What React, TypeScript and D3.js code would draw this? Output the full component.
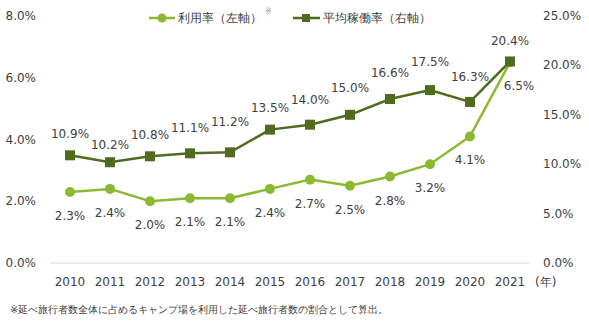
import React from "react";
import * as d3 from "d3";

const years = ["2010","2011","2012","2013","2014","2015","2016","2017","2018","2019","2020","2021"];
const usageRate = [2.3, 2.4, 2.0, 2.1, 2.1, 2.4, 2.7, 2.5, 2.8, 3.2, 4.1, 6.5];
const occupancyRate = [10.9, 10.2, 10.8, 11.1, 11.2, 13.5, 14.0, 15.0, 16.6, 17.5, 16.3, 20.4];
const leftTicks = [0, 2, 4, 6, 8];
const rightTicks = [0, 5, 10, 15, 20, 25];
const occLabelDy = [-21, -17, -21, -25, -30, -22, -25, -27, -26, -28, -25, -20];

const W = 589, H = 321;
const LIGHT = "#8CB931";
const DARK = "#4F6B1D";
const TEXT = "#404040";
const FONT = "'DejaVu Sans', Verdana, sans-serif";

export default function App() {
  const x = d3.scalePoint<string>().domain(years).range([70, 510]);
  const yL = d3.scaleLinear().domain([0, 8]).range([263, 16]);
  const yR = d3.scaleLinear().domain([0, 25]).range([263, 16]);

  const lineL = d3.line<number>().x((_, i) => x(years[i])!).y(d => yL(d));
  const lineR = d3.line<number>().x((_, i) => x(years[i])!).y(d => yR(d));

  return (
    <svg width={W} height={H} style={{ position: "absolute", left: 0, top: 0 }} fontFamily={FONT}>
      <rect width={W} height={H} fill="#fff" />
      {/* baseline */}
      <line x1={50} x2={530} y1={yL(0)} y2={yL(0)} stroke="#d9d9d9" strokeWidth={1} />
      {/* left axis */}
      {leftTicks.map(t => (
        <text key={"l" + t} x={36} y={yL(t)} textAnchor="end" dominantBaseline="central" fontSize={12} fill={TEXT}>
          {t.toFixed(1) + "%"}
        </text>
      ))}
      {/* right axis */}
      {rightTicks.map(t => (
        <text key={"r" + t} x={543} y={yR(t)} textAnchor="start" dominantBaseline="central" fontSize={12} fill={TEXT}>
          {t.toFixed(1) + "%"}
        </text>
      ))}
      {/* x axis */}
      {years.map(y => (
        <text key={"x" + y} x={x(y)!} y={282} textAnchor="middle" dominantBaseline="central" fontSize={12} fill={TEXT}>
          {y}
        </text>
      ))}
      <text x={535} y={282} dominantBaseline="central" fontSize={12} fill={TEXT}>(年)</text>

      {/* usage line */}
      <path d={lineL(usageRate)!} fill="none" stroke={LIGHT} strokeWidth={2.5} />
      {usageRate.map((v, i) => (
        <circle key={"c" + i} cx={x(years[i])!} cy={yL(v)} r={5} fill={LIGHT} />
      ))}
      {/* occupancy line */}
      <path d={lineR(occupancyRate)!} fill="none" stroke={DARK} strokeWidth={2.5} />
      {occupancyRate.map((v, i) => (
        <rect key={"sq" + i} x={x(years[i])! - 5} y={yR(v) - 5} width={10} height={10} fill={DARK} />
      ))}

      {/* labels */}
      {occupancyRate.map((v, i) => (
        <text key={"ol" + i} x={x(years[i])!} y={yR(v) + occLabelDy[i]} textAnchor="middle" dominantBaseline="central" fontSize={12} fill={TEXT}>
          {v.toFixed(1) + "%"}
        </text>
      ))}
      {usageRate.map((v, i) => (
        <text key={"ul" + i} x={x(years[i])! + (i === usageRate.length - 1 ? 9 : 0)} y={yL(v) + 24} textAnchor="middle" dominantBaseline="central" fontSize={12} fill={TEXT}>
          {v.toFixed(1) + "%"}
        </text>
      ))}

      {/* legend */}
      <line x1={149} x2={175} y1={18} y2={18} stroke={LIGHT} strokeWidth={2.5} />
      <circle cx={162} cy={18} r={4.5} fill={LIGHT} />
      <text x={178} y={18} dominantBaseline="central" fontSize={12} fill={TEXT}>利用率（左軸）</text>
      <text x={265} y={11} dominantBaseline="central" fontSize={8} fill="#999">※</text>
      <line x1={293} x2={320} y1={18} y2={18} stroke={DARK} strokeWidth={2.5} />
      <rect x={302} y={14} width={8} height={8} fill={DARK} />
      <text x={323} y={18} dominantBaseline="central" fontSize={12} fill={TEXT}>平均稼働率（右軸）</text>

      {/* footnote */}
      <text x={10} y={309} dominantBaseline="central" fontSize={10} fill={TEXT}>
        ※延べ旅行者数全体に占めるキャンプ場を利用した延べ旅行者数の割合として算出。
      </text>
    </svg>
  );
}
